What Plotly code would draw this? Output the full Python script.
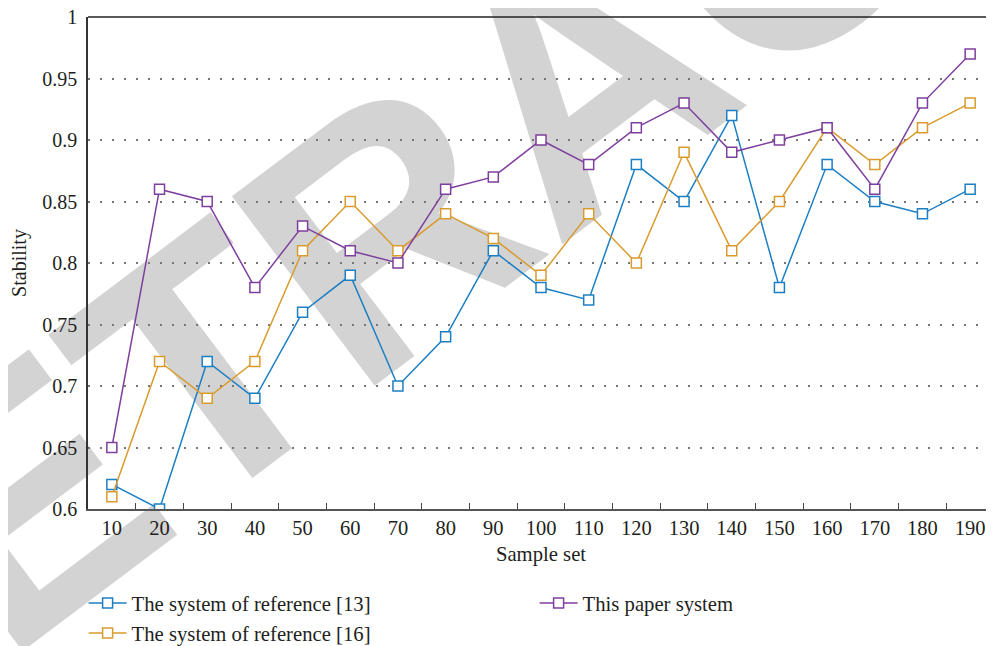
import plotly.graph_objects as go

sample_sets = [10, 20, 30, 40, 50, 60, 70, 80, 90, 100, 110, 120, 130, 140, 150, 160, 170, 180, 190]
ref13 = [0.62, 0.60, 0.72, 0.69, 0.76, 0.79, 0.70, 0.74, 0.81, 0.78, 0.77, 0.88, 0.85, 0.92, 0.78, 0.88, 0.85, 0.84, 0.86]
ref16 = [0.61, 0.72, 0.69, 0.72, 0.81, 0.85, 0.81, 0.84, 0.82, 0.79, 0.84, 0.80, 0.89, 0.81, 0.85, 0.91, 0.88, 0.91, 0.93]
paper = [0.65, 0.86, 0.85, 0.78, 0.83, 0.81, 0.80, 0.86, 0.87, 0.90, 0.88, 0.91, 0.93, 0.89, 0.90, 0.91, 0.86, 0.93, 0.97]
y_ticks = [0.6, 0.65, 0.7, 0.75, 0.8, 0.85, 0.9, 0.95, 1.0]
y_tick_labels = ["0.6", "0.65", "0.7", "0.75", "0.8", "0.85", "0.9", "0.95", "1"]

names = ["The system of reference [13]", "The system of reference [16]", "This paper system"]
colors = ["#1C7FC4", "#D99B2E", "#7E3F9E"]
ranks = [1, 3, 2]
series = [ref13, ref16, paper]

x_cat = [str(v) for v in sample_sets]
FONT = "Liberation Serif, Times New Roman, serif"

# the page body adds an 8px margin, so the figure is sized/offset to compensate
W, H = 986, 638
L, T, B = 80, 9, 137
PW, PH = W - L, H - T - B

fig = go.Figure()
for name, col, rk, ys in zip(names, colors, ranks, series):
    fig.add_trace(go.Scatter(
        x=x_cat, y=ys, name=name, mode="lines+markers",
        line=dict(color=col, width=1.5),
        marker=dict(symbol="square", size=10, color="white", line=dict(color=col, width=1.5)),
        legendrank=rk,
    ))

# watermark
cx, cy = 555, 45
fig.add_shape(
    type="rect", xref="paper", yref="paper",
    x0=(cx - L) / PW - 0.001, x1=(cx - L) / PW + 0.001,
    y0=(T + PH - cy) / PH - 0.001, y1=(T + PH - cy) / PH + 0.001,
    line=dict(width=0), fillcolor="rgba(0,0,0,0)", layer="below",
    label=dict(text="<b>RETRACTED</b>", textangle=-37, textposition="middle center",
               font=dict(family="Liberation Sans Narrow, Arial Narrow, Liberation Sans, sans-serif",
                         size=345, color="#D3D3D3")),
)

fig.update_layout(
    width=W, height=H,
    margin=dict(l=L, r=0, t=T, b=B, autoexpand=False),
    paper_bgcolor="white", plot_bgcolor="white",
    font=dict(family=FONT, size=20, color="#231F20"),
    showlegend=True,
    legend=dict(
        orientation="h", xref="container", x=75.6 / W, xanchor="left",
        yref="container", y=0.0987, yanchor="top",
        entrywidth=398, entrywidthmode="pixels",
        font=dict(family=FONT, size=20.7, color="#231F20"),
        bgcolor="rgba(0,0,0,0)", tracegroupgap=0, itemwidth=38,
    ),
    xaxis=dict(
        type="category", range=[-0.5, 18.5], tickson="boundaries", automargin=False,
        ticks="inside", ticklen=6, tickcolor="#444", tickwidth=1.2,
        showline=True, linecolor="#555", linewidth=1.5,
        showgrid=False, zeroline=False,
        title=dict(text="Sample set", standoff=8, font=dict(size=20.7)),
        tickfont=dict(size=20.5),
    ),
    yaxis=dict(
        range=[0.6, 1.0], tickvals=y_ticks, ticktext=y_tick_labels, automargin=False,
        ticks="", showline=True, linecolor="#333", linewidth=1.5,
        showgrid=True, gridcolor="#777", gridwidth=1.5, griddash="1.5px,10.5px",
        zeroline=False, ticklabeloverflow="allow",
        title=dict(text="Stability", standoff=14, font=dict(size=20)),
        tickfont=dict(size=20), ticklabelstandoff=5,
    ),
)
fig.add_shape(type="line", xref="paper", yref="paper", x0=0, x1=1, y0=1, y1=1,
              line=dict(color="#222", width=1.5))

fig.write_html("out.html")
